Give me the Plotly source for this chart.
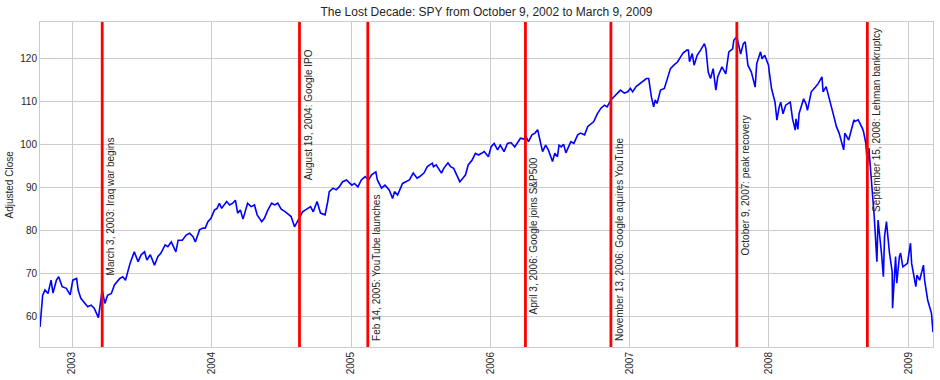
import plotly.graph_objects as go

dates = [
"2002-10-09","2002-10-16","2002-10-22","2002-10-30","2002-11-07","2002-11-12","2002-11-21","2002-11-27",
"2002-12-06","2002-12-17","2002-12-27","2003-01-03","2003-01-13","2003-01-17","2003-01-24","2003-02-03",
"2003-02-11","2003-02-20","2003-02-28","2003-03-11","2003-03-21","2003-03-28","2003-04-04","2003-04-14",
"2003-04-22","2003-05-06","2003-05-14","2003-05-21","2003-06-02","2003-06-13","2003-06-23","2003-07-01",
"2003-07-10","2003-07-16","2003-07-25","2003-08-05","2003-08-14","2003-08-22","2003-09-02","2003-09-09",
"2003-09-18","2003-09-30","2003-10-06","2003-10-17","2003-10-27","2003-11-05","2003-11-14","2003-11-20",
"2003-12-01","2003-12-10","2003-12-16","2003-12-23","2003-12-31","2004-01-09","2004-01-16","2004-01-22",
"2004-01-28","2004-02-10","2004-02-18","2004-02-26","2004-03-04","2004-03-10","2004-03-17","2004-03-24",
"2004-04-05","2004-04-14","2004-04-23","2004-04-30","2004-05-12","2004-05-19","2004-05-28","2004-06-07",
"2004-06-15","2004-06-23","2004-07-02","2004-07-13","2004-07-21","2004-07-28","2004-08-06","2004-08-16",
"2004-08-24","2004-08-27","2004-09-10","2004-09-17","2004-09-24","2004-10-04","2004-10-13","2004-10-25",
"2004-11-01","2004-11-05","2004-11-15","2004-11-23","2004-12-01","2004-12-10","2004-12-20","2004-12-28",
"2005-01-03","2005-01-10","2005-01-19","2005-01-28","2005-02-07","2005-02-16","2005-02-24","2005-03-07",
"2005-03-11","2005-03-22","2005-03-31","2005-04-11","2005-04-20","2005-04-25","2005-05-03","2005-05-16",
"2005-05-24","2005-06-03","2005-06-13","2005-06-23","2005-06-30","2005-07-11","2005-07-20","2005-08-02",
"2005-08-05","2005-08-12","2005-08-26","2005-09-01","2005-09-12","2005-09-19","2005-09-27","2005-10-05",
"2005-10-13","2005-10-21","2005-10-28","2005-11-04","2005-11-14","2005-11-23","2005-12-01","2005-12-09",
"2005-12-16","2005-12-27","2006-01-03","2006-01-11","2006-01-20","2006-01-27","2006-02-06","2006-02-15",
"2006-02-24","2006-03-06","2006-03-14","2006-03-21","2006-03-30","2006-04-04","2006-04-11","2006-04-20",
"2006-04-28","2006-05-05","2006-05-12","2006-05-18","2006-05-26","2006-06-02","2006-06-13","2006-06-19",
"2006-06-26","2006-06-30","2006-07-06","2006-07-12","2006-07-18","2006-07-24","2006-07-31","2006-08-08",
"2006-08-18","2006-08-25","2006-09-05","2006-09-13","2006-09-22","2006-09-29","2006-10-09","2006-10-18",
"2006-10-27","2006-11-03","2006-11-13","2006-11-22","2006-11-30","2006-12-08","2006-12-18","2006-12-27",
"2007-01-03","2007-01-09","2007-01-18","2007-01-29","2007-02-05","2007-02-14","2007-02-20","2007-02-27",
"2007-03-05","2007-03-09","2007-03-14","2007-03-23","2007-04-02","2007-04-10","2007-04-18","2007-04-27",
"2007-05-07","2007-05-15","2007-05-21","2007-05-31","2007-06-04","2007-06-07","2007-06-14","2007-06-19",
"2007-06-27","2007-07-06","2007-07-16","2007-07-20","2007-07-26","2007-08-01","2007-08-08","2007-08-15",
"2007-08-20","2007-08-31","2007-09-10","2007-09-18","2007-09-28","2007-10-01","2007-10-09","2007-10-12",
"2007-10-19","2007-10-26","2007-10-31","2007-11-07","2007-11-16","2007-11-26","2007-11-30","2007-12-10",
"2007-12-14","2007-12-21","2007-12-31","2008-01-02","2008-01-08","2008-01-17","2008-01-22","2008-01-28",
"2008-02-01","2008-02-07","2008-02-14","2008-02-26","2008-03-03","2008-03-10","2008-03-12","2008-03-17",
"2008-03-20","2008-04-01","2008-04-07","2008-04-11","2008-04-21","2008-05-02","2008-05-09","2008-05-19",
"2008-05-22","2008-05-30","2008-06-09","2008-06-16","2008-06-26","2008-07-03","2008-07-15","2008-07-18",
"2008-07-28","2008-08-11","2008-08-13","2008-08-22","2008-09-02","2008-09-05","2008-09-11","2008-09-15",
"2008-09-19","2008-09-26","2008-09-29","2008-10-03","2008-10-10","2008-10-13","2008-10-22","2008-10-27",
"2008-10-30","2008-11-04","2008-11-12","2008-11-19","2008-11-20","2008-11-24","2008-11-28","2008-12-01",
"2008-12-08","2008-12-11","2008-12-17","2008-12-29","2009-01-06","2009-01-09","2009-01-20","2009-01-23",
"2009-01-30","2009-02-09","2009-02-12","2009-02-20","2009-03-02","2009-03-06",
]

adj_close = [
57.5,64.9,66.1,65.3,68.4,65.4,68.4,69.2,
66.9,66.5,65.0,68.4,68.8,66.1,64.2,63.0,
62.2,62.6,61.9,59.7,66.1,63.0,64.9,65.3,
67.3,68.8,69.2,68.4,72.3,75.0,72.7,74.3,
75.0,73.1,74.3,71.9,73.9,74.7,76.6,76.2,
77.3,75.0,77.7,77.7,78.9,79.3,78.5,77.3,
80.1,80.5,80.5,82.0,82.8,84.7,85.1,86.3,
85.1,86.7,85.9,86.3,87.0,84.0,84.7,82.6,
86.3,85.5,85.9,83.6,82.0,82.8,84.7,86.3,
85.9,86.3,84.9,84.3,83.6,83.2,80.8,82.4,
84.0,84.3,85.1,85.5,84.3,86.7,84.0,83.6,
86.7,89.0,89.8,89.4,90.1,91.3,91.7,90.9,
90.5,90.9,90.1,91.7,92.5,91.7,92.9,93.6,
91.7,89.8,90.5,89.4,87.4,89.0,88.2,90.9,
91.3,91.7,93.3,92.1,92.5,93.3,94.8,95.6,
94.8,95.2,93.3,94.4,95.7,94.8,94.4,92.9,
91.3,92.1,92.9,95.2,96.3,97.9,97.5,97.9,
98.3,97.1,99.4,100.2,98.7,99.8,98.3,100.2,
100.4,99.4,100.6,101.4,101.2,101.8,100.6,102.2,
102.6,103.4,100.6,98.3,99.8,98.7,96.0,97.9,
97.1,99.8,99.4,100.0,98.0,99.4,100.6,100.2,
102.2,102.6,102.2,104.1,104.9,105.3,107.2,108.4,
109.1,108.7,110.3,111.1,111.9,112.6,111.9,112.2,
113.0,112.2,113.4,114.2,114.6,115.3,115.3,111.1,
108.7,110.3,109.5,112.6,113.0,115.3,117.6,118.4,
119.2,120.4,121.2,121.9,121.9,119.2,121.1,118.4,
120.7,121.9,123.4,122.2,116.8,115.3,117.6,112.6,
115.7,118.0,116.4,121.5,122.2,124.2,125.0,123.8,
121.0,123.4,123.8,118.4,116.8,113.3,118.7,121.5,
119.9,120.7,118.4,116.8,112.9,109.8,105.6,108.7,
109.8,107.1,109.1,109.8,105.9,103.3,105.9,103.5,
107.1,110.6,109.4,107.9,112.2,113.3,114.1,115.7,
112.2,113.4,110.3,107.6,104.1,102.6,98.7,102.6,
101.0,105.7,105.3,105.7,103.7,102.9,100.2,95.2,
99.1,91.7,87.0,83.2,72.7,82.4,74.7,69.2,
78.5,82.0,74.7,70.4,61.9,69.2,73.9,67.7,
73.9,74.7,71.5,72.3,77.0,72.3,66.9,69.6,
68.4,71.9,68.4,63.8,60.7,56.3,
]

event_dates = ["2003-03-21", "2004-08-19", "2005-02-14", "2006-04-03",
               "2006-11-13", "2007-10-09", "2008-09-15"]
event_labels = ["March 3, 2003: Iraq war begins", "August 19, 2004: Google IPO",
                "Feb 14, 2005: YouTube launches", "April 3, 2006: Google joins S&P500",
                "November 13, 2006: Google aquires YouTube", "October 9, 2007: peak recovery",
                "September 15, 2008: Lehman bankruptcy"]
label_y = [69.2, 91.3, 54.1, 60.3, 54.1, 74.0, 84.0]

year_ticks = ["2003-01-01", "2004-01-01", "2005-01-01", "2006-01-01",
              "2007-01-01", "2008-01-01", "2009-01-01"]
year_labels = ["2003", "2004", "2005", "2006", "2007", "2008", "2009"]
y_ticks = [60, 70, 80, 90, 100, 110, 120]

FONT = "Liberation Sans, Arial, sans-serif"
TXT = "#262626"
GRID = "#cccccc"

fig = go.Figure()
fig.add_trace(go.Scatter(x=dates, y=adj_close, mode="lines",
                         line=dict(color="#0000ff", width=1.6), showlegend=False))

for d in event_dates:
    fig.add_shape(type="line", xref="x", yref="paper", x0=d, x1=d, y0=0, y1=1,
                  line=dict(color="#ff0000", width=2.8), layer="above")

for d, lab, yv in zip(event_dates, event_labels, label_y):
    fig.add_annotation(x=d, y=yv, xref="x", yref="y", text=lab, textangle=-90,
                       showarrow=False, xanchor="left", yanchor="bottom", xshift=2,
                       borderpad=0, font=dict(family=FONT, size=10, color=TXT))

fig.add_annotation(xref="paper", yref="paper", x=-0.0336, y=0.5, text="Adjusted Close",
                   textangle=-90, showarrow=False, xanchor="center", yanchor="middle",
                   font=dict(family=FONT, size=10, color=TXT))

fig.update_layout(
    width=940, height=380,
    margin=dict(l=40, r=7, t=22, b=33),
    paper_bgcolor="white", plot_bgcolor="white",
    font=dict(family=FONT, size=10, color=TXT),
    title=dict(text="The Lost Decade: SPY from October 9, 2002 to March 9, 2009",
               x=0.5, xref="paper", y=1 - 12 / 380, yref="container",
               xanchor="center", yanchor="middle",
               font=dict(family=FONT, size=12, color=TXT)),
    showlegend=False,
)
fig.update_xaxes(range=["2002-10-09", "2009-03-06"], tickvals=year_ticks, ticktext=year_labels,
                 tickangle=-90, showgrid=True, gridcolor=GRID, gridwidth=1,
                 showline=True, linecolor=GRID, linewidth=1, mirror=True, ticks="",
                 zeroline=False, tickfont=dict(family=FONT, size=10, color=TXT))
fig.update_yaxes(range=[52.86, 128.44], tickvals=y_ticks, showgrid=True, gridcolor=GRID,
                 gridwidth=1, showline=True, linecolor=GRID, linewidth=1, mirror=True,
                 ticks="", zeroline=False, tickfont=dict(family=FONT, size=10, color=TXT))

fig.write_html("out.html")
